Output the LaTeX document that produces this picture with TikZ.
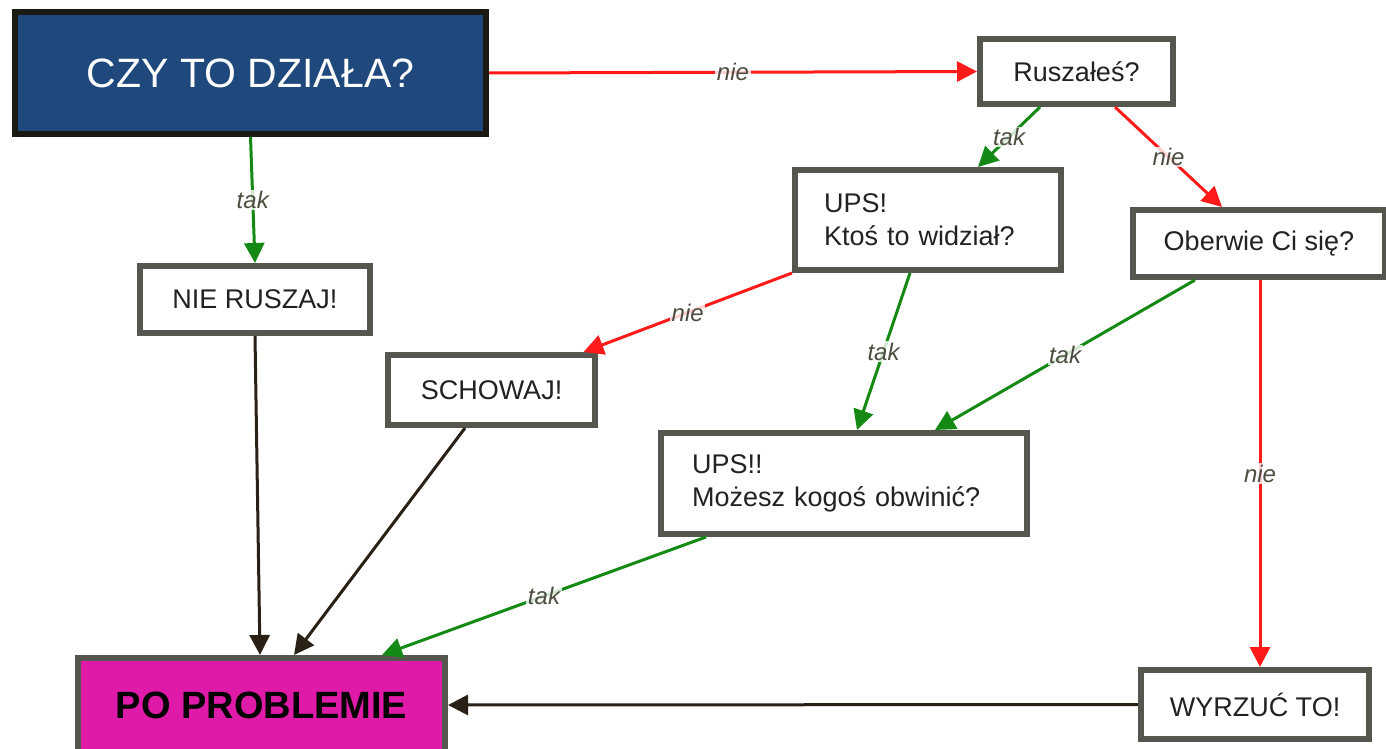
\documentclass[tikz,border=0pt]{standalone}
\usepackage{fontspec}
\setmainfont{Liberation Sans}
\usetikzlibrary{arrows.meta}
\definecolor{boxline}{HTML}{55574F}
\definecolor{topline}{HTML}{1A1A12}
\definecolor{topfill}{HTML}{1F497D}
\definecolor{magfill}{HTML}{E01AA8}
\definecolor{txt}{HTML}{222222}
\definecolor{lbl}{HTML}{4D4D40}
\definecolor{cred}{HTML}{FF1A1A}
\definecolor{cgreen}{HTML}{148A14}
\definecolor{cblack}{HTML}{2A2015}
\tikzset{
  box/.style={draw=boxline, line width=6pt, fill=white, text=txt, inner sep=0pt,
    font=\fontsize{27}{33}\selectfont},
  conn/.style={line width=3pt, -{Triangle[length=20pt,width=20pt]}},
  redc/.style={conn, draw=cred},
  greenc/.style={conn, draw=cgreen},
  blackc/.style={conn, draw=cblack},
  lab/.style={midway, font=\fontsize{24}{28}\selectfont\itshape, text=lbl,
    fill=white, fill opacity=0.8, text opacity=1, inner sep=1.5pt}
}
\begin{document}
\begin{tikzpicture}[x=1pt,y=-1pt]
\useasboundingbox (0,0) rectangle (1386,749);
\node[box, draw=topline, fill=topfill, text=white, minimum width=471, minimum height=122,
  font=\fontsize{41}{48}\selectfont] (A) at (250.5,73) {CZY TO DZIAŁA?};
\node[box, minimum width=193, minimum height=65] (B) at (1076.5,71.5) {Ruszałeś?};
\node[box, minimum width=266, minimum height=100, align=left, text width=208]
  (C) at (928,220) {UPS!\\Ktoś to widział?};
\node[box, minimum width=252, minimum height=67] (D) at (1259,243.5) {Oberwie Ci się?};
\node[box, minimum width=230, minimum height=67] (E) at (255,299.5) {NIE RUSZAJ!};
\node[box, minimum width=207, minimum height=70] (F) at (491.5,390) {SCHOWAJ!};
\node[box, minimum width=366, minimum height=101, align=left, text width=304]
  (G) at (844,483.5) {UPS!!\\Możesz kogoś obwinić?};
\node[box, fill=magfill, text=black, minimum width=367, minimum height=94,
  font=\fontsize{38}{44}\selectfont\bfseries] (H) at (261.5,705) {PO PROBLEMIE};
\node[box, minimum width=228, minimum height=69] (I) at (1255,704.5) {WYRZUĆ TO!};

\draw[redc] (A.east) -- (B.west) node[lab] {nie};
\draw[greenc] (A.south) -- (E.north) node[lab] {tak};
\draw[greenc] ([xshift=-36.5pt]B.south) -- ([xshift=50pt]C.north) node[lab] {tak};
\draw[redc] ([xshift=38.5pt]B.south) -- ([xshift=-37pt]D.north) node[lab] {nie};
\draw[redc] (C.south west) -- ([xshift=92pt]F.north) node[lab] {nie};
\draw[greenc] ([xshift=-18pt]C.south) -- ([xshift=13pt]G.north) node[lab] {tak};
\draw[greenc] ([xshift=-64pt]D.south) -- ([xshift=91pt]G.north) node[lab] {tak};
\draw[redc] ([xshift=1pt]D.south) -- ([xshift=1pt]D.south |- I.north) node[lab] {nie};
\draw[blackc] (E.south) -- ([xshift=-1.5pt]H.north);
\draw[blackc] ([xshift=-26.5pt]F.south) -- ([xshift=32.5pt]H.north);
\draw[greenc] ([xshift=-138pt]G.south) -- ([xshift=120.5pt]H.north) node[lab] {tak};
\draw[blackc] (I.west) -- (H.east);
\end{tikzpicture}
\end{document}
